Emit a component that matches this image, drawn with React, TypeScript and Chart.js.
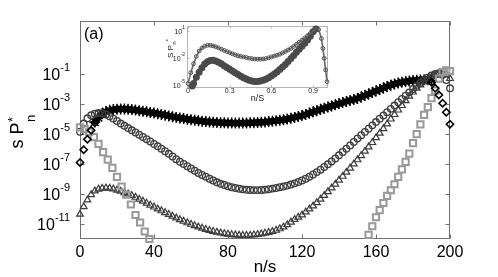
import React, { useEffect, useRef } from "react";
import { Chart, registerables } from "chart.js";

Chart.register(...registerables);

const FONT = '"Liberation Sans", Arial, Helvetica, sans-serif';

// ---------- main panel data: [n/s, log10(s P*_n)] ----------
const xTickValues = [0, 40, 80, 120, 160, 200];
const xTickLabels = ["0", "40", "80", "120", "160", "200"];
const yTickExponents = [-1, -3, -5, -7, -9, -11];

const starPoints = [
  [8, -4.2], [10, -3.9], [12, -3.65], [14, -3.5], [16, -3.42], [18, -3.37], [20, -3.34], [22, -3.33], [24, -3.33],
  [26, -3.35], [28, -3.37], [30, -3.4], [32, -3.44], [34, -3.48], [36, -3.52], [38, -3.56], [40, -3.6], [42, -3.64],
  [44, -3.69], [46, -3.74], [48, -3.79], [50, -3.84], [52, -3.89], [54, -3.93], [56, -3.97], [58, -4.01], [60, -4.05],
  [62, -4.08], [64, -4.11], [66, -4.14], [68, -4.17], [70, -4.19], [72, -4.21], [74, -4.23], [76, -4.24], [78, -4.25],
  [80, -4.26], [82, -4.27], [84, -4.27], [86, -4.27], [88, -4.27], [90, -4.26], [92, -4.25], [94, -4.24], [96, -4.23],
  [98, -4.22], [100, -4.2], [102, -4.17], [104, -4.14], [106, -4.11], [108, -4.08], [110, -4.05], [112, -4.0],
  [114, -3.95], [116, -3.89], [118, -3.83], [120, -3.77], [122, -3.69], [124, -3.6], [126, -3.52], [128, -3.44],
  [130, -3.35], [132, -3.28], [134, -3.2], [136, -3.13], [138, -3.05], [140, -2.97], [142, -2.9], [144, -2.83],
  [146, -2.76], [148, -2.7], [150, -2.63], [152, -2.53], [154, -2.43], [156, -2.33], [158, -2.23], [160, -2.13],
  [162, -2.03], [164, -1.93], [166, -1.83], [168, -1.74], [170, -1.66], [172, -1.6], [174, -1.54], [176, -1.5],
  [178, -1.46], [180, -1.43], [182, -1.41], [184, -1.39], [186, -1.38], [188, -1.38], [190, -1.42],
];

const diamondPoints = [
  [0, -6.9], [2, -6.05], [4, -5.35], [6, -4.75], [8, -4.25],
  [190, -1.55], [192, -1.95], [194, -2.4], [196, -2.95], [198, -3.55], [200, -4.35],
];

const circlePoints = [
  [0, -4.85], [2, -4.3], [4, -3.95], [6, -3.75], [8, -3.65], [10, -3.6], [12, -3.62], [14, -3.7], [16, -3.82],
  [18, -3.97], [20, -4.13], [22, -4.3], [24, -4.45], [26, -4.6], [28, -4.75], [30, -4.9], [32, -5.05], [34, -5.2],
  [36, -5.35], [38, -5.5], [40, -5.66], [42, -5.82], [44, -5.98], [46, -6.15], [48, -6.32], [50, -6.5], [52, -6.68],
  [54, -6.85], [56, -7.0], [58, -7.15], [60, -7.3], [62, -7.45], [64, -7.6], [66, -7.73], [68, -7.85], [70, -7.98],
  [72, -8.1], [74, -8.22], [76, -8.32], [78, -8.4], [80, -8.48], [82, -8.55], [84, -8.6], [86, -8.65], [88, -8.69],
  [90, -8.72], [92, -8.73], [94, -8.74], [96, -8.74], [98, -8.73], [100, -8.71], [102, -8.68], [104, -8.64],
  [106, -8.6], [108, -8.55], [110, -8.5], [112, -8.44], [114, -8.37], [116, -8.29], [118, -8.2], [120, -8.1],
  [122, -7.98], [124, -7.85], [126, -7.7], [128, -7.54], [130, -7.38], [132, -7.2], [134, -7.02], [136, -6.83],
  [138, -6.63], [140, -6.42], [142, -6.2], [144, -5.98], [146, -5.76], [148, -5.53], [150, -5.3], [152, -5.08],
  [154, -4.86], [156, -4.64], [158, -4.42], [160, -4.2], [162, -3.98], [164, -3.76], [166, -3.54], [168, -3.32],
  [170, -3.1], [172, -2.88], [174, -2.66], [176, -2.44], [178, -2.22], [180, -2.0], [182, -1.78], [184, -1.58],
  [186, -1.4], [188, -1.24], [190, -1.1], [192, -1.0], [194, -0.95], [196, -1.05], [198, -1.4], [200, -1.95],
];

const trianglePoints = [
  [0, -10.35], [2, -9.85], [4, -9.4], [6, -9.05], [8, -8.8], [10, -8.68], [12, -8.62], [14, -8.6], [16, -8.62],
  [18, -8.67], [20, -8.74], [22, -8.82], [24, -8.91], [26, -9.0], [28, -9.1], [30, -9.22], [32, -9.35], [34, -9.48],
  [36, -9.61], [38, -9.74], [40, -9.87], [42, -10.0], [44, -10.12], [46, -10.24], [48, -10.36], [50, -10.48],
  [52, -10.6], [54, -10.71], [56, -10.82], [58, -10.92], [60, -11.02], [62, -11.11], [64, -11.2], [66, -11.28],
  [68, -11.36], [70, -11.43], [72, -11.49], [74, -11.55], [76, -11.6], [78, -11.64], [80, -11.68], [82, -11.71],
  [84, -11.73], [86, -11.75], [88, -11.76], [90, -11.76], [92, -11.75], [94, -11.73], [96, -11.7], [98, -11.66],
  [100, -11.61], [102, -11.56], [104, -11.5], [106, -11.42], [108, -11.32], [110, -11.2], [112, -11.05],
  [114, -10.88], [116, -10.7], [118, -10.55], [120, -10.4], [122, -10.2], [124, -10.0], [126, -9.8], [128, -9.58],
  [130, -9.35], [132, -9.1], [134, -8.85], [136, -8.6], [138, -8.35], [140, -8.08], [142, -7.82], [144, -7.55],
  [146, -7.28], [148, -7.0], [150, -6.72], [152, -6.44], [154, -6.15], [156, -5.86], [158, -5.57], [160, -5.25],
  [162, -4.95], [164, -4.64], [166, -4.33], [168, -4.0], [170, -3.7], [172, -3.4], [174, -3.1], [176, -2.78],
  [178, -2.48], [180, -2.2], [182, -1.95], [184, -1.72], [186, -1.52], [188, -1.35], [190, -1.2], [192, -1.07],
  [194, -0.97], [196, -0.93], [198, -1.0], [200, -1.3],
];

const squarePoints = [
  [0, -4.55], [2.5, -4.65], [5, -4.85], [7.5, -5.2], [10, -5.65], [12.5, -6.2], [15, -6.7], [17.5, -7.25],
  [20, -7.85], [22.5, -8.5], [25, -9.05], [27.5, -9.7], [30, -10.4], [32.5, -10.9], [35, -11.5], [37.5, -12.0],
  [156, -11.73], [158, -11.15], [160, -10.55], [162, -10.08], [164, -9.6], [166, -9.13], [168, -8.75], [170, -8.35],
  [172, -7.85], [174, -7.35], [176, -6.85], [178, -6.3], [180, -5.6], [182, -5.0], [184, -4.35], [186, -3.72],
  [188, -3.2], [190, -2.6], [192, -2.1], [194, -1.3], [196, -0.85], [198, -0.75], [200, -0.8],
];

// ---------- inset data: [n/S, log10(S P*_n)] ----------
const insetXTickValues = [0, 0.3, 0.6, 0.9];
const insetXTickLabels = ["0", "0.3", "0.6", "0.9"];
const insetYTickExponents = [1, -2, -5];

const insetUpperPoints = [
  [0, -4.8], [0.02, -3.6], [0.04, -2.6], [0.06, -1.8], [0.08, -1.2], [0.1, -0.85], [0.12, -0.65], [0.14, -0.55],
  [0.16, -0.55], [0.18, -0.62], [0.2, -0.72], [0.22, -0.85], [0.24, -0.98], [0.26, -1.12], [0.28, -1.26],
  [0.3, -1.38], [0.32, -1.5], [0.34, -1.62], [0.36, -1.72], [0.38, -1.79], [0.4, -1.85], [0.42, -1.92],
  [0.44, -1.99], [0.46, -2.04], [0.48, -2.08], [0.5, -2.1], [0.52, -2.1], [0.54, -2.08], [0.56, -2.03],
  [0.58, -1.95], [0.6, -1.85], [0.62, -1.75], [0.64, -1.66], [0.66, -1.55], [0.68, -1.41], [0.7, -1.25],
  [0.72, -1.08], [0.74, -0.9], [0.76, -0.68], [0.78, -0.45], [0.8, -0.22], [0.82, 0.02], [0.84, 0.27],
  [0.86, 0.52], [0.88, 0.77], [0.9, 1.0], [0.92, 1.3], [0.94, 1.2], [0.96, 0.2], [0.97, -0.9], [0.98, -2.0],
  [0.99, -3.3], [1.0, -4.6],
];

const insetLowerPoints = [
  [0.03, -5.1], [0.04, -4.8], [0.06, -4.1], [0.08, -3.55], [0.1, -3.05], [0.12, -2.65], [0.14, -2.38],
  [0.16, -2.25], [0.18, -2.22], [0.2, -2.3], [0.22, -2.45], [0.24, -2.62], [0.26, -2.82], [0.28, -3.02],
  [0.3, -3.22], [0.32, -3.42], [0.34, -3.62], [0.36, -3.82], [0.38, -4.0], [0.4, -4.17], [0.42, -4.32],
  [0.44, -4.44], [0.46, -4.53], [0.48, -4.58], [0.5, -4.58], [0.52, -4.54], [0.54, -4.46], [0.56, -4.34],
  [0.58, -4.18], [0.6, -3.98], [0.62, -3.76], [0.64, -3.52], [0.66, -3.26], [0.68, -2.98], [0.7, -2.68],
  [0.72, -2.36], [0.74, -2.02], [0.76, -1.68], [0.78, -1.34], [0.8, -1.0], [0.82, -0.66], [0.84, -0.32],
  [0.86, 0.05], [0.88, 0.45], [0.9, 0.95], [0.92, 1.25],
];

const toXY = (pairs: number[][]) => pairs.map(([x, e]) => ({ x, y: Math.pow(10, e) }));

function drawPow(ctx: CanvasRenderingContext2D, rightX: number, tickY: number, exp: number,
  big: number, small: number, baseOff: number, supOff: number) {
  const base = "10";
  const sup = String(exp);
  ctx.font = `${big}px ${FONT}`;
  const wb = ctx.measureText(base).width;
  ctx.font = `${small}px ${FONT}`;
  const ws = ctx.measureText(sup).width;
  const x0 = rightX - wb - ws;
  ctx.textAlign = "left";
  ctx.textBaseline = "alphabetic";
  ctx.font = `${big}px ${FONT}`;
  ctx.fillText(base, x0, tickY + baseOff);
  ctx.font = `${small}px ${FONT}`;
  ctx.fillText(sup, x0 + wb, tickY - supOff);
}

const mainDecor = {
  id: "mainDecor",
  beforeDraw(chart: any) {
    const ctx = chart.ctx;
    ctx.save();
    ctx.fillStyle = "#fff";
    ctx.fillRect(0, 0, chart.width, chart.height);
    ctx.restore();
  },
  beforeDatasetsDraw(chart: any) {
    const { ctx, chartArea: a, scales } = chart;
    ctx.save();
    ctx.strokeStyle = "#707070";
    ctx.lineWidth = 1;
    const L = Math.round(a.left) + 0.5, R = Math.round(a.right) - 0.5;
    const T = Math.round(a.top) - 0.5, B = Math.round(a.bottom) - 0.5;
    ctx.strokeRect(L, T, R - L, B - T);
    ctx.beginPath();
    const tl = 4;
    xTickValues.forEach((v) => {
      const x = Math.round(scales.x.getPixelForValue(v)) + 0.5;
      ctx.moveTo(x, B); ctx.lineTo(x, B - tl);
      ctx.moveTo(x, T); ctx.lineTo(x, T + tl);
    });
    yTickExponents.forEach((e) => {
      const y = Math.round(scales.y.getPixelForValue(Math.pow(10, e))) + 0.5;
      ctx.moveTo(L, y); ctx.lineTo(L + tl, y);
      ctx.moveTo(R, y); ctx.lineTo(R - tl, y);
    });
    ctx.stroke();
    ctx.restore();
  },
  afterDraw(chart: any) {
    const { ctx, chartArea: a, scales } = chart;
    ctx.save();
    ctx.fillStyle = "#000";
    ctx.font = `16px ${FONT}`;
    ctx.textAlign = "center";
    ctx.textBaseline = "alphabetic";
    xTickValues.forEach((v, i) => {
      ctx.fillText(xTickLabels[i], scales.x.getPixelForValue(v), 257);
    });
    yTickExponents.forEach((e) => {
      const y = scales.y.getPixelForValue(Math.pow(10, e));
      drawPow(ctx, 70, y, e, 16, 11, 6, 3);
    });
    ctx.font = `17px ${FONT}`;
    ctx.textAlign = "center";
    ctx.fillText("n/s", (a.left + a.right) / 2, 272);
    ctx.textAlign = "left";
    ctx.font = `16px ${FONT}`;
    ctx.fillText("(a)", 84, 39);
    ctx.save();
    ctx.translate(23, 148.5);
    ctx.rotate(-Math.PI / 2);
    ctx.font = `18px ${FONT}`;
    ctx.textAlign = "left";
    ctx.fillText("s P", 0, 0);
    const w = ctx.measureText("s P").width;
    ctx.font = `13px ${FONT}`;
    ctx.fillText("*", w + 0.5, -6.5);
    ctx.fillText("n", w + 0.5, 12);
    ctx.restore();
    ctx.restore();
  },
};

const insetDecor = {
  id: "insetDecor",
  beforeDatasetsDraw(chart: any) {
    const { ctx, chartArea: a, scales } = chart;
    ctx.save();
    ctx.fillStyle = "#fff";
    ctx.fillRect(a.left, a.top, a.right - a.left, a.bottom - a.top);
    ctx.strokeStyle = "#b4b4b4";
    ctx.lineWidth = 1;
    const L = Math.round(a.left) - 0.5, R = Math.round(a.right) + 0.5;
    const T = Math.round(a.top) - 0.5, B = Math.round(a.bottom) + 0.5;
    ctx.strokeRect(L, T, R - L, B - T);
    ctx.beginPath();
    const tl = 2;
    insetXTickValues.forEach((v) => {
      const x = Math.round(scales.x.getPixelForValue(v)) + 0.5;
      ctx.moveTo(x, B); ctx.lineTo(x, B - tl);
      ctx.moveTo(x, T); ctx.lineTo(x, T + tl);
    });
    insetYTickExponents.forEach((e) => {
      const y = Math.round(scales.y.getPixelForValue(Math.pow(10, e))) + 0.5;
      ctx.moveTo(L, y); ctx.lineTo(L + tl, y);
      ctx.moveTo(R, y); ctx.lineTo(R - tl, y);
    });
    ctx.stroke();
    ctx.restore();
  },
  afterDraw(chart: any) {
    const { ctx, chartArea: a, scales } = chart;
    ctx.save();
    ctx.fillStyle = "#222";
    ctx.font = `7px ${FONT}`;
    ctx.textAlign = "center";
    ctx.textBaseline = "alphabetic";
    insetXTickValues.forEach((v, i) => {
      ctx.fillText(insetXTickLabels[i], scales.x.getPixelForValue(v), 73);
    });
    insetYTickExponents.forEach((e) => {
      const y = scales.y.getPixelForValue(Math.pow(10, e));
      drawPow(ctx, 25, y, e, 7, 5, 2.5, 2);
    });
    ctx.font = `9px ${FONT}`;
    ctx.textAlign = "center";
    ctx.fillText("n/S", (a.left + a.right) / 2, 81);
    ctx.save();
    ctx.translate(13, 38);
    ctx.rotate(-Math.PI / 2);
    ctx.font = `8px ${FONT}`;
    ctx.textAlign = "left";
    ctx.fillText("S P", 0, 0);
    const w = ctx.measureText("S P").width;
    ctx.font = `6px ${FONT}`;
    ctx.fillText("n", w + 0.3, 2.5);
    ctx.fillText("*", w + 3.5, -3.5);
    ctx.restore();
    ctx.restore();
  },
};

export default function App() {
  const mainRef = useRef<HTMLCanvasElement>(null);
  const insetRef = useRef<HTMLCanvasElement>(null);

  useEffect(() => {
    const mainChart = new Chart(mainRef.current as HTMLCanvasElement, {
      type: "scatter",
      data: {
        datasets: [
          {
            label: "diamonds",
            data: toXY(diamondPoints),
            pointStyle: "rectRot",
            pointRadius: 3.6,
            borderColor: "#000",
            backgroundColor: "rgba(0,0,0,0)",
            pointBorderWidth: 1.6,
            clip: false,
          } as any,
          {
            label: "squares",
            data: toXY(squarePoints),
            pointStyle: "rect",
            pointRadius: 4.4,
            borderColor: "#999",
            backgroundColor: "rgba(0,0,0,0)",
            pointBorderWidth: 2,
            clip: false,
          },
          {
            label: "triangles",
            data: toXY(trianglePoints),
            pointStyle: "triangle",
            pointRadius: 3.9,
            borderColor: "#3c3c3c",
            backgroundColor: "rgba(0,0,0,0)",
            pointBorderWidth: 1.2,
            clip: false,
          },
          {
            label: "circles",
            data: toXY(circlePoints),
            pointStyle: "circle",
            pointRadius: 3.3,
            borderColor: "#3c3c3c",
            backgroundColor: "rgba(0,0,0,0)",
            pointBorderWidth: 1.3,
            clip: false,
          },
          {
            label: "stars",
            data: toXY(starPoints),
            showLine: true,
            borderColor: "#000",
            borderWidth: 6,
            pointStyle: "star",
            pointRadius: 5.5,
            pointBorderColor: "#000",
            pointBackgroundColor: "#000",
            pointBorderWidth: 1.4,
            clip: false,
          },
        ],
      },
      options: {
        animation: false,
        responsive: false,
        maintainAspectRatio: false,
        events: [],
        layout: { padding: { left: 80, top: 22, right: 48, bottom: 38 } },
        plugins: { legend: { display: false }, tooltip: { enabled: false } },
        scales: {
          x: { type: "linear", min: 0, max: 200, display: false },
          y: { type: "logarithmic", min: 1e-12, max: Math.pow(10, 2.47), display: false },
        },
      } as any,
      plugins: [mainDecor],
    });

    const insetChart = new Chart(insetRef.current as HTMLCanvasElement, {
      type: "scatter",
      data: {
        datasets: [
          {
            label: "upper",
            data: toXY(insetUpperPoints),
            showLine: true,
            borderColor: "#6a6a6a",
            borderWidth: 1.6,
            pointStyle: "circle",
            pointRadius: 1.9,
            pointBorderColor: "#505050",
            pointBackgroundColor: "rgba(0,0,0,0)",
            pointBorderWidth: 1,
            clip: false,
          },
          {
            label: "lower",
            data: toXY(insetLowerPoints),
            showLine: true,
            borderColor: "#4a4a4a",
            borderWidth: 3.4,
            pointStyle: "circle",
            pointRadius: 1.8,
            pointBackgroundColor: "#4a4a4a",
            pointBorderColor: "#4a4a4a",
            clip: false,
          },
        ],
      },
      options: {
        animation: false,
        responsive: false,
        maintainAspectRatio: false,
        events: [],
        layout: { padding: { left: 28, top: 6, right: 8, bottom: 18 } },
        plugins: { legend: { display: false }, tooltip: { enabled: false } },
        scales: {
          x: { type: "linear", min: 0, max: 1, display: false },
          y: { type: "logarithmic", min: Math.pow(10, -5.2), max: Math.pow(10, 1.44), display: false },
        },
      } as any,
      plugins: [insetDecor],
    });

    return () => {
      mainChart.destroy();
      insetChart.destroy();
    };
  }, []);

  return (
    <div style={{ position: "fixed", left: 0, top: 0, width: 498, height: 277, background: "#fff" }}>
      <canvas ref={mainRef} width={498} height={277}
        style={{ position: "absolute", left: 0, top: 0, width: 498, height: 277, display: "block" }} />
      <canvas ref={insetRef} width={175} height={85}
        style={{ position: "absolute", left: 160, top: 20, width: 175, height: 85, display: "block" }} />
    </div>
  );
}
